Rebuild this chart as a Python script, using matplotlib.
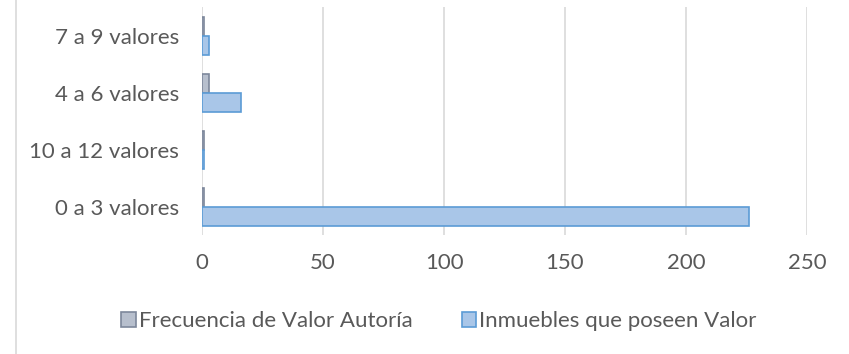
import matplotlib.pyplot as plt
from matplotlib.lines import Line2D
from matplotlib.patches import Patch
import numpy as np

# Categorías (de abajo hacia arriba) y valores de cada serie
categorias = ['0 a 3 valores', '10 a 12 valores', '4 a 6 valores', '7 a 9 valores']
frecuencia_autoria = [1, 1, 3, 1]
inmuebles_valor = [226, 1, 16, 3]
ticks_x = [0, 50, 100, 150, 200, 250]

texto = '#595959'
plt.rcParams['font.family'] = ['Lato', 'DejaVu Sans']

fig = plt.figure(figsize=(8.49, 3.54), dpi=100)
ax = fig.add_axes([0.238, 0.335, 0.7125, 0.644])

y = np.arange(len(categorias))
alto = 0.33
ax.barh(y + alto / 2, frecuencia_autoria, height=alto, color='#b7bfcd',
        edgecolor='#7d879b', linewidth=1.2, label='Frecuencia de Valor Autoría', zorder=3)
ax.barh(y - alto / 2, inmuebles_valor, height=alto, color='#a9c6e8',
        edgecolor='#5b9bd5', linewidth=1.2, label='Inmuebles que poseen Valor', zorder=3)

ax.set_xlim(0, 250)
ax.set_ylim(-0.5, len(categorias) - 0.5)
ax.set_xticks(ticks_x)
ax.set_yticks(y)
ax.set_yticklabels(categorias)
ax.grid(axis='x', color='#d9d9d9', linewidth=1.2, zorder=0)
ax.tick_params(length=0, labelsize=16, colors=texto)
ax.tick_params(axis='y', pad=16.5)
ax.tick_params(axis='x', pad=13)
for s in ax.spines.values():
    s.set_visible(False)

handles = [Patch(facecolor='#b7bfcd', edgecolor='#7d879b', linewidth=1.2),
           Patch(facecolor='#a9c6e8', edgecolor='#5b9bd5', linewidth=1.2)]
fig.legend(handles, ['Frecuencia de Valor Autoría', 'Inmuebles que poseen Valor'],
           loc='center', bbox_to_anchor=(0.517, 0.093), ncol=2, frameon=False,
           fontsize=16, labelcolor=texto, handlelength=0.65, handleheight=0.65,
           handletextpad=0.15, columnspacing=2.2)

# borde izquierdo del marco del gráfico
fig.add_artist(Line2D([0.019, 0.019], [0, 1], color='#d9d9d9', linewidth=1.2))

fig.savefig('out.png', dpi=100)
